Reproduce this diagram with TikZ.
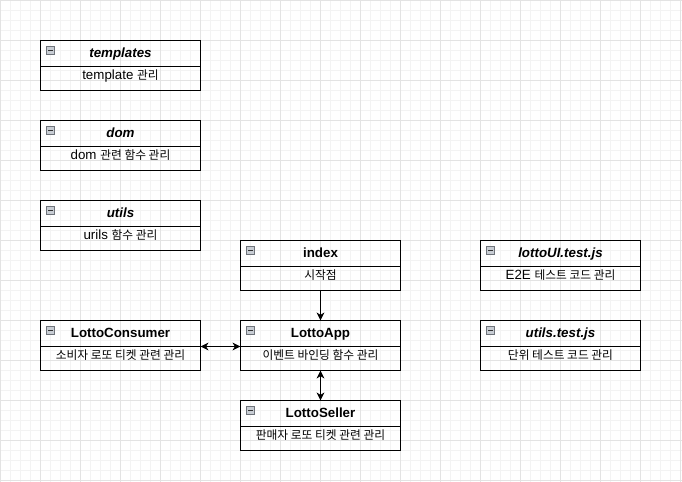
\documentclass[tikz,border=0pt]{standalone}
\usepackage{fontspec}
\setmainfont{Liberation Sans}
\newfontfamily\kr[Scale=0.88]{Noto Sans CJK KR}
\usetikzlibrary{arrows.meta,positioning}

\definecolor{gridminor}{HTML}{F3F3F3}
\definecolor{gridmajor}{HTML}{E3E3E3}
\definecolor{iconfill}{HTML}{C8CDD4}
\definecolor{iconline}{HTML}{6E737A}

\begin{document}
\begin{tikzpicture}[x=0.75pt, y=-0.75pt, node distance=22.5pt,
    head/.style={rectangle, draw, line width=0.75pt, minimum width=120pt, minimum height=19.5pt,
      inner sep=0pt, outer sep=0pt, text height=7pt, text depth=0.5pt, font=\bfseries,
      path picture={
        \draw[iconline, fill=iconfill, line width=0.5pt]
          ([shift={(4.6pt,-4.6pt)}]path picture bounding box.north west) rectangle
          ([shift={(10.6pt,-10pt)}]path picture bounding box.north west);
        \draw[black!80, line width=0.9pt]
          ([shift={(5.9pt,-7.3pt)}]path picture bounding box.north west) --
          ([shift={(9.3pt,-7.3pt)}]path picture bounding box.north west);
      }},
    ihead/.style={head, font=\bfseries\itshape},
    body/.style={rectangle, draw, line width=0.75pt, minimum width=120pt, minimum height=18pt,
      inner sep=0pt, outer sep=0pt, text height=7pt, text depth=5.5pt},
    arrow/.style={-{Stealth[length=6pt, width=5.8pt, inset=1.8pt]}, line width=0.75pt},
    twoway/.style={{Stealth[length=6pt, width=5.8pt, inset=1.8pt]}-{Stealth[length=6pt, width=5.8pt, inset=1.8pt]}, line width=0.75pt}]

    \useasboundingbox (0,0) rectangle (682,482);

    % Grid
    \foreach \x in {0,10,...,680} \draw[gridminor, line width=0.75pt] (\x+0.5,0) -- (\x+0.5,482);
    \foreach \y in {0,10,...,480} \draw[gridminor, line width=0.75pt] (0,\y+0.5) -- (682,\y+0.5);
    \foreach \x in {0,40,...,680} \draw[gridmajor, line width=0.75pt] (\x+0.5,0) -- (\x+0.5,482);
    \foreach \y in {0,40,...,480} \draw[gridmajor, line width=0.75pt] (0,\y+0.5) -- (682,\y+0.5);

    % Left column
    \node[ihead] (templates) at (120.5,53.5) {templates};
    \node[body, below=0pt of templates] (templates-b) {template {\kr 관리}};

    \node[ihead, below=of templates-b] (dom) {dom};
    \node[body, below=0pt of dom] (dom-b) {dom {\kr 관련 함수 관리}};

    \node[ihead, below=of dom-b] (utils) {utils};
    \node[body, below=0pt of utils] (utils-b) {urils {\kr 함수 관리}};

    % Middle column
    \node[head] (index) at (320.5,253.5) {index};
    \node[body, below=0pt of index] (index-b) {\kr 시작점};

    \node[head, below=of index-b] (app) {LottoApp};
    \node[body, below=0pt of app] (app-b) {\kr 이벤트 바인딩 함수 관리};

    \node[head, below=of app-b] (seller) {LottoSeller};
    \node[body, below=0pt of seller] (seller-b) {\kr 판매자 로또 티켓 관련 관리};

    \node[head, left=30pt of app] (consumer) {LottoConsumer};
    \node[body, below=0pt of consumer] (consumer-b) {\kr 소비자 로또 티켓 관련 관리};

    % Right column
    \node[ihead, right=60pt of index] (uitest) {lottoUI.test.js};
    \node[body, below=0pt of uitest] (uitest-b) {E2E {\kr 테스트 코드 관리}};

    \node[ihead, right=60pt of app] (utilstest) {utils.test.js};
    \node[body, below=0pt of utilstest] (utilstest-b) {\kr 단위 테스트 코드 관리};

    % Arrows
    \draw[arrow] (index-b) -- (app);
    \draw[twoway] (consumer-b.north east) -- (app-b.north west);
    \draw[twoway] (app-b) -- (seller);

\end{tikzpicture}
\end{document}
